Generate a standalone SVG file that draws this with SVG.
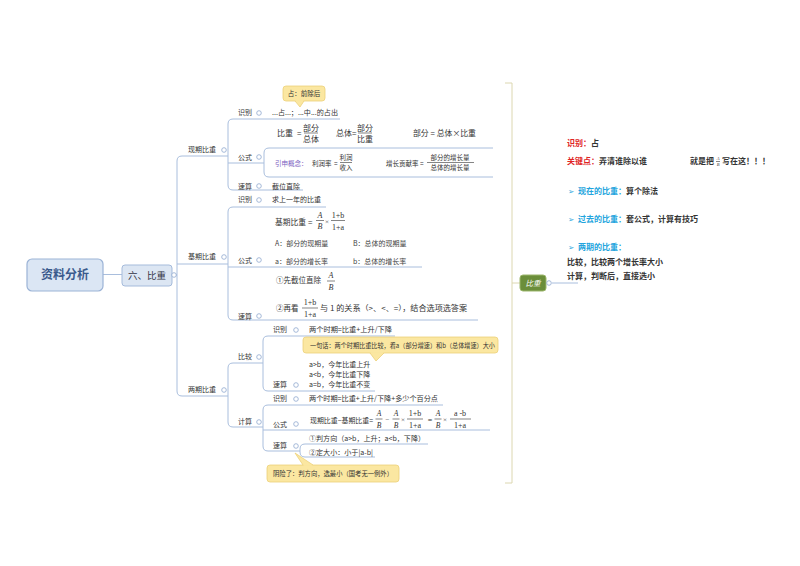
<svg xmlns="http://www.w3.org/2000/svg" width="800" height="566" viewBox="0 0 800 566">
<defs>
<style>
text{font-family:"Noto Sans CJK SC","Noto Sans",sans-serif;fill:#333;}
.l{font-size:7px;}
.s{font-size:6.5px;}
.c{fill:#fff;stroke:#8fa8cf;stroke-width:0.8;}
.ln{fill:none;stroke:#a9bedd;stroke-width:1;}
.br{fill:none;stroke:#dcd7b0;stroke-width:1;}
.f{font-family:"Liberation Serif","Noto Sans CJK SC",serif;font-size:8px;text-anchor:middle;}
.fi{font-family:"Liberation Serif",serif;font-style:italic;font-size:8px;text-anchor:middle;}
.m{text-anchor:middle;}
.co{fill:#fbe7a1;stroke:#ecd17a;stroke-width:0.8;}
.bar{stroke:#333;stroke-width:0.6;}
.p{font-size:8px;font-weight:bold;}
.red{fill:#e02424;}
.blue{fill:#22a4dd;}
.ar{font-family:"DejaVu Sans",sans-serif;font-size:7.5px;fill:#22a4dd;}
</style>
</defs>
<rect width="800" height="566" fill="#fff"/>

<g id="connectors">
<g class="ln">
<path d="M103,274.5 H122"/>
<path d="M172,275 H177"/>
<path d="M177,275 V161 Q177,156 182,156 H228"/>
<path d="M177,264 H228"/>
<path d="M177,275 V391 Q177,396 182,396 H228"/>
<path d="M228,156 V124 Q228,119 233,119 H340"/>
<path d="M228,163 H264"/>
<path d="M228,156 V185 Q228,190 233,190 H303"/>
<path d="M264,163 V153 Q264,148 269,148 H493"/>
<path d="M264,163 V172 Q264,177 269,177 H493"/>
<path d="M228,264 V212 Q228,207 233,207 H326"/>
<path d="M228,267 H422"/>
<path d="M228,264 V315 Q228,320 233,320 H478"/>
<path d="M228,396 V368 Q228,363 233,363 H263"/>
<path d="M228,396 V422 Q228,427 233,427 H263"/>
<path d="M263,363 V341 Q263,336 268,336 H395"/>
<path d="M263,363 V386 Q263,391 268,391 H375"/>
<path d="M263,427 V410 Q263,405 268,405 H443"/>
<path d="M263,430 H490"/>
<path d="M263,427 V446 Q263,451 268,451 H300"/>
<path d="M300,451 V449 Q300,444 305,444 H428"/>
<path d="M300,451 V452 Q300,457 305,457 H375"/>
<path d="M552,283 H578"/>
</g>
<g class="br">
<path d="M505,83 H512 V483 H505"/>
<path d="M512,283 H520"/>
</g>
</g>

<g id="root">
<rect x="27" y="259" width="76" height="32" rx="5" fill="#dbe6f4" stroke="#9bb3d6" stroke-width="1.2"/>
<text x="65" y="279" class="m" style="font-size:12px;font-weight:bold;fill:#3a5a8c">资料分析</text>
</g>

<g id="n-bizhong">
<rect x="122" y="265" width="50" height="21" rx="3" fill="#dce6f3" stroke="#a5bbdb"/>
<text x="147" y="279" class="m" style="font-size:9.5px;fill:#334">六、比重</text>
<circle class="c" cx="174" cy="275" r="2.3"/>
</g>

<g id="n-xianqi">
<text x="188" y="152" class="l">现期比重</text>
<circle class="c" cx="224" cy="150" r="2.3"/>
<text x="238" y="115" class="l">识别</text>
<circle class="c" cx="259" cy="113" r="2.3"/>
<text x="272" y="115" class="l" textLength="66" lengthAdjust="spacingAndGlyphs">...占...；...中...的占出</text>
<rect x="283" y="86" width="42" height="15" rx="3" class="co"/>
<path d="M295,101 L300,107 L304,101" class="co"/>
<path d="M295.5,100.6 H303.5" stroke="#fbe7a1" stroke-width="1"/>
<text x="304" y="96" class="s m">占：前除后</text>
<text x="238" y="160" class="l">公式</text>
<circle class="c" cx="259" cy="157" r="2.3"/>
<text x="277" y="136" style="font-size:8px">比重</text>
<text x="297" y="136" style="font-size:8px">=</text>
<text x="311" y="130.5" class="f">部分</text>
<line x1="304" y1="133" x2="318" y2="133" class="bar"/>
<text x="311" y="141.5" class="f">总体</text>
<text x="336" y="136" style="font-size:8px">总体</text>
<text x="352" y="136" style="font-size:8px">=</text>
<text x="365" y="130.5" class="f">部分</text>
<line x1="358" y1="133" x2="372" y2="133" class="bar"/>
<text x="365" y="141.5" class="f">比重</text>
<text x="413" y="136" style="font-size:8px" textLength="63" lengthAdjust="spacingAndGlyphs">部分 = 总体×比重</text>
<text x="275" y="166" class="s" style="fill:#7a5cc0">引申概念：</text>
<text x="312" y="166" class="s">利润率</text>
<text x="334" y="166" class="s">=</text>
<text x="346" y="160" class="f" style="font-size:6.5px">利润</text>
<line x1="340" y1="162.5" x2="352" y2="162.5" class="bar"/>
<text x="346" y="170" class="f" style="font-size:6.5px">收入</text>
<text x="386" y="166" class="s">增长贡献率</text>
<text x="420" y="166" class="s">=</text>
<text x="450" y="160" class="f" style="font-size:6.5px">部分的增长量</text>
<line x1="427" y1="162.5" x2="474" y2="162.5" class="bar"/>
<text x="450" y="170" class="f" style="font-size:6.5px">总体的增长量</text>
<text x="238" y="189" class="l">速算</text>
<circle class="c" cx="259" cy="186" r="2.3"/>
<text x="272" y="189" class="l">截位直除</text>
</g>

<g id="n-jiqi">
<text x="188" y="259" class="l">基期比重</text>
<circle class="c" cx="224" cy="257" r="2.3"/>
<text x="238" y="202" class="l">识别</text>
<circle class="c" cx="259" cy="200" r="2.3"/>
<text x="272" y="202" class="l">求上一年的比重</text>
<text x="238" y="263" class="l">公式</text>
<circle class="c" cx="259" cy="260" r="2.3"/>
<text x="275" y="225" style="font-size:8.5px" textLength="31" lengthAdjust="spacingAndGlyphs">基期比重</text>
<text x="308" y="225" style="font-size:8px">=</text>
<text x="320" y="218" class="fi">A</text>
<line x1="316" y1="220.5" x2="324" y2="220.5" class="bar"/>
<text x="320" y="229" class="fi">B</text>
<text x="327" y="224" class="f" style="font-size:7px">×</text>
<text x="338" y="217.5" class="f">1+b</text>
<line x1="331" y1="220.5" x2="345" y2="220.5" class="bar"/>
<text x="338" y="229.5" class="f">1+a</text>
<text x="275" y="246" class="l" style="fill:#444">A：部分的现期量</text>
<text x="353" y="246" class="l" style="fill:#444">B：总体的现期量</text>
<text x="275" y="264" class="l" style="fill:#444">a：部分的增长率</text>
<text x="353" y="264" class="l" style="fill:#444">b：总体的增长率</text>
<text x="238" y="319" class="l">速算</text>
<circle class="c" cx="259" cy="316" r="2.3"/>
<text x="276" y="283" style="font-size:7.5px">①先截位直除</text>
<text x="331" y="278" class="fi">A</text>
<line x1="327" y1="281" x2="335" y2="281" class="bar"/>
<text x="331" y="290" class="fi">B</text>
<text x="276" y="311" style="font-size:7.5px">②再看</text>
<text x="310" y="305" class="f">1+b</text>
<line x1="302" y1="308" x2="318" y2="308" class="bar"/>
<text x="310" y="317" class="f">1+a</text>
<text x="320" y="311" style="font-size:7.5px" textLength="147" lengthAdjust="spacingAndGlyphs">与 1 的关系（&gt;、&lt;、=），结合选项选答案</text>
</g>

<g id="n-liangqi">
<text x="188" y="392" class="l">两期比重</text>
<circle class="c" cx="224" cy="390" r="2.3"/>
<text x="238" y="359" class="l">比较</text>
<circle class="c" cx="259" cy="357" r="2.3"/>
<text x="238" y="424" class="l">计算</text>
<circle class="c" cx="259" cy="422" r="2.3"/>
<text x="273" y="332" class="l">识别</text>
<circle class="c" cx="296" cy="330" r="2.3"/>
<text x="309" y="332" class="l" textLength="83" lengthAdjust="spacingAndGlyphs">两个时期=比重+上升/下降</text>
<rect x="303" y="337" width="195" height="16" rx="3" class="co"/>
<path d="M370,353 L376,361 L384,353" class="co"/>
<path d="M370.5,352.6 H383.5" stroke="#fbe7a1" stroke-width="1"/>
<text x="310" y="347.5" class="s" textLength="185" lengthAdjust="spacingAndGlyphs">一句话：两个时期比重比较，看a（部分增速）和b（总体增速）大小</text>
<text x="309" y="366.5" class="l">a&gt;b，今年比重上升</text>
<text x="309" y="376.5" class="l">a&lt;b，今年比重下降</text>
<text x="309" y="386.5" class="l">a=b，今年比重不变</text>
<text x="273" y="387" class="l">速算</text>
<circle class="c" cx="296" cy="385" r="2.3"/>
<text x="273" y="401" class="l">识别</text>
<circle class="c" cx="296" cy="399" r="2.3"/>
<text x="309" y="401" class="l" textLength="129" lengthAdjust="spacingAndGlyphs">两个时期=比重+上升/下降+多少个百分点</text>
<text x="273" y="427" class="l">公式</text>
<circle class="c" cx="296" cy="424" r="2.3"/>
<text x="310" y="422.5" style="font-size:7px" textLength="63" lengthAdjust="spacingAndGlyphs">现期比重−基期比重=</text>
<text x="379" y="416" class="fi" style="font-size:7.5px">A</text>
<line x1="375.5" y1="419" x2="382.5" y2="419" class="bar"/>
<text x="379" y="427.5" class="fi" style="font-size:7.5px">B</text>
<text x="387.5" y="421.5" class="f" style="font-size:7px">−</text>
<text x="396" y="416" class="fi" style="font-size:7.5px">A</text>
<line x1="392.5" y1="419" x2="399.5" y2="419" class="bar"/>
<text x="396" y="427.5" class="fi" style="font-size:7.5px">B</text>
<text x="403" y="422" class="f" style="font-size:7px">×</text>
<text x="415" y="416" class="f">1+b</text>
<line x1="407" y1="419" x2="423" y2="419" class="bar"/>
<text x="415" y="427.5" class="f">1+a</text>
<text x="430" y="422.5" class="f">=</text>
<text x="438" y="416" class="fi" style="font-size:7.5px">A</text>
<line x1="434.5" y1="419" x2="441.5" y2="419" class="bar"/>
<text x="438" y="427.5" class="fi" style="font-size:7.5px">B</text>
<text x="445" y="422" class="f" style="font-size:7px">×</text>
<text x="460" y="416" class="f">a -b</text>
<line x1="450" y1="419" x2="471" y2="419" class="bar"/>
<text x="460" y="427.5" class="f">1+a</text>
<text x="273" y="448" class="l">速算</text>
<circle class="c" cx="296" cy="446" r="2.3"/>
<text x="309" y="441" class="l" textLength="116" lengthAdjust="spacingAndGlyphs">①判方向（a&gt;b，上升；a&lt;b，下降）</text>
<text x="309" y="455" class="l" textLength="64" lengthAdjust="spacingAndGlyphs">②定大小：小于|a-b|</text>
<rect x="267" y="465" width="132" height="17" rx="3" class="co"/>
<path d="M303,465 L295,453 L313,465" class="co"/>
<path d="M303.5,465.4 H312.5" stroke="#fbe7a1" stroke-width="1"/>
<text x="273" y="476" class="s" textLength="120" lengthAdjust="spacingAndGlyphs">阴险了：判方向，选最小（国考无一例外）</text>
</g>

<g id="n-summary">
<rect x="520" y="275" width="26" height="16" rx="3" fill="#6b8e3a" stroke="#9bb56a"/>
<text x="533" y="286" class="m" style="font-size:7.5px;font-style:italic;fill:#fff">比重</text>
<circle class="c" cx="549" cy="283" r="2.3"/>
</g>

<g id="n-note">
<text x="567" y="146" class="p"><tspan class="red">识别：</tspan>占</text>
<text x="567" y="164" class="p"><tspan class="red">关键点：</tspan>弄清谁除以谁</text>
<text x="690" y="164" class="p">就是把</text>
<text x="718" y="160" class="fi" style="font-size:4.5px">A</text>
<line x1="716" y1="161.5" x2="720" y2="161.5" class="bar" stroke-width="0.4"/>
<text x="718" y="166" class="fi" style="font-size:4.5px">B</text>
<text x="722" y="164" class="p">写在这！！！</text>
<text x="568" y="194" class="ar">➢</text>
<text x="578" y="194" class="p"><tspan class="blue">现在的比重：</tspan>算个除法</text>
<text x="568" y="222" class="ar">➢</text>
<text x="578" y="222" class="p"><tspan class="blue">过去的比重：</tspan>套公式，计算有技巧</text>
<text x="568" y="250" class="ar">➢</text>
<text x="578" y="250" class="p"><tspan class="blue">两期的比重：</tspan></text>
<text x="567" y="265" class="p">比较，比较两个增长率大小</text>
<text x="567" y="279" class="p">计算，判断后，直接选小</text>
</g>
</svg>
